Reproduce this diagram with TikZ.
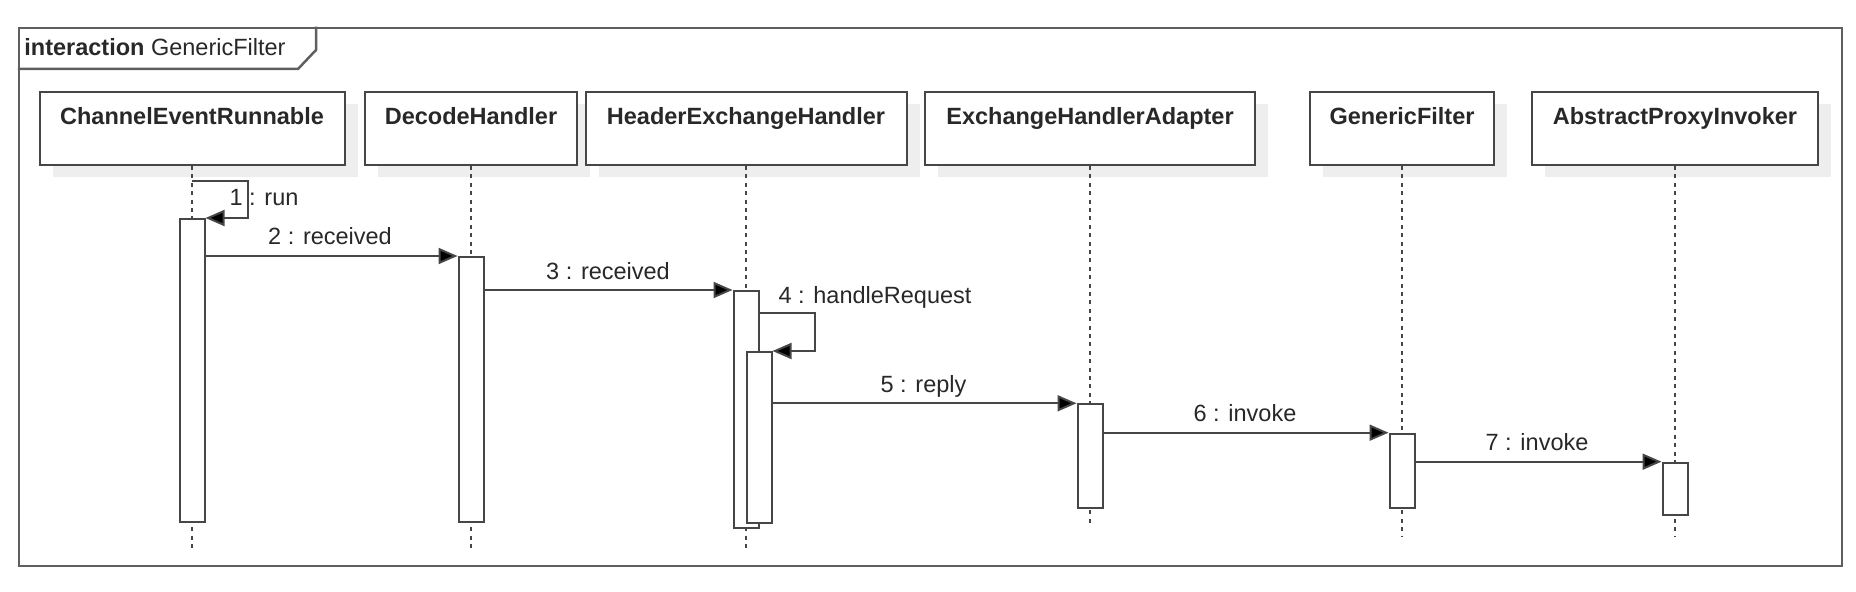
\documentclass[tikz,border=0pt]{standalone}
\usepackage{fontspec}
\setmainfont{Liberation Sans}
\usetikzlibrary{arrows.meta,shadows,calc}
\definecolor{ln}{RGB}{70,70,70}
\definecolor{tx}{RGB}{40,40,40}
\definecolor{fr}{RGB}{95,95,95}
\definecolor{shd}{RGB}{238,238,238}
\begin{document}
\begin{tikzpicture}[x=0.5pt,y=-0.5pt,
  font=\fontsize{11.75}{14}\selectfont, text=tx,
  hdr/.style={draw=ln, line width=1pt, fill=white, inner sep=0pt,
    text height=16.5pt, text depth=20pt, font=\fontsize{11.75}{14}\selectfont\bfseries,
    drop shadow={shadow xshift=6.5pt, shadow yshift=-6pt, fill=shd, opacity=1}},
  act/.style={draw=ln, line width=1pt, fill=white, inner sep=0pt,
    minimum width=12.5pt, anchor=north},
  life/.style={draw=ln, line width=0.8pt, dash pattern=on 2pt off 2.2pt},
  msg/.style={draw=ln, line width=1pt, -{Triangle[length=9.5pt,width=8pt,fill=black]}},
  lbl/.style={anchor=base, inner sep=0pt},
  framebox/.style={draw=fr, line width=1.25pt, inner sep=0pt}]
\useasboundingbox (0,0) rectangle (1856,592);

% frame
\node[framebox, minimum width=911.5pt, minimum height=269pt] (frame) at (930.5,297) {};
\draw[fr, line width=1.25pt] (frame.north west |- 0,69) -- (298,69) -- (316,50) -- (316,0 |- frame.north);
\node[anchor=base west, inner sep=0pt] (title) at (24,56) {\textbf{interaction} GenericFilter};

% headers
\node[hdr, minimum width=152.5pt] (h1) at (192,128.5) {ChannelEventRunnable};
\node[hdr, minimum width=106pt]   (h2) at (471,128.5) {DecodeHandler};
\node[hdr, minimum width=160.5pt] (h3) at (746,128.5) {HeaderExchangeHandler};
\node[hdr, minimum width=165pt]   (h4) at (1090,128.5) {ExchangeHandlerAdapter};
\node[hdr, minimum width=92pt]    (h5) at (1402,128.5) {GenericFilter};
\node[hdr, minimum width=143pt]   (h6) at (1675,128.5) {AbstractProxyInvoker};

% lifeline ends
\coordinate (e1) at (192,548);
\coordinate (e2) at (471,548);
\coordinate (e3) at (746,548);
\coordinate (e4) at (1090,526);
\coordinate (e5) at (1402,537);
\coordinate (e6) at (1675,537);
\foreach \i in {1,...,6} \draw[life] (h\i.south) -- (e\i);

% activations
\node[act, minimum height=151.5pt] (a1) at (192,218) {};
\node[act, minimum height=132.5pt] (a2) at (471,256) {};
\node[act, minimum height=118.5pt] (a3) at (746,290) {};
\node[act, minimum height=85.5pt]  (a3b) at (759,351) {};
\node[act, minimum height=52pt]    (a4) at (1090,403.3) {};
\node[act, minimum height=37.3pt]  (a5) at (1402,432.7) {};
\node[act, minimum height=26.3pt]  (a6) at (1675,461.7) {};

% messages
\draw[msg] (h1.south |- 0,181) -- ++(56,0) |- (a1.north east);
\draw[msg] (a1.east |- a2.north west) -- (a2.north west);
\draw[msg] (a2.east |- a3.north west) -- (a3.north west);
\draw[msg] (a3.east |- 0,313) -- ++(55,0) |- (a3b.north east);
\draw[msg] (a3b.east |- a4.north west) -- (a4.north west);
\draw[msg] (a4.east |- a5.north west) -- (a5.north west);
\draw[msg] (a5.east |- a6.north west) -- (a6.north west);

% labels
\node[lbl] (m1) at (264,206) {1 : run};
\node[lbl] (m2) at (330,245) {2 : received};
\node[lbl] (m3) at (608,279.3) {3 : received};
\node[lbl] (m4) at (875,303.5) {4 : handleRequest};
\node[lbl] (m5) at (923.5,392.7) {5 : reply};
\node[lbl] (m6) at (1245,421.7) {6 : invoke};
\node[lbl] (m7) at (1537,451) {7 : invoke};
\end{tikzpicture}
\end{document}
